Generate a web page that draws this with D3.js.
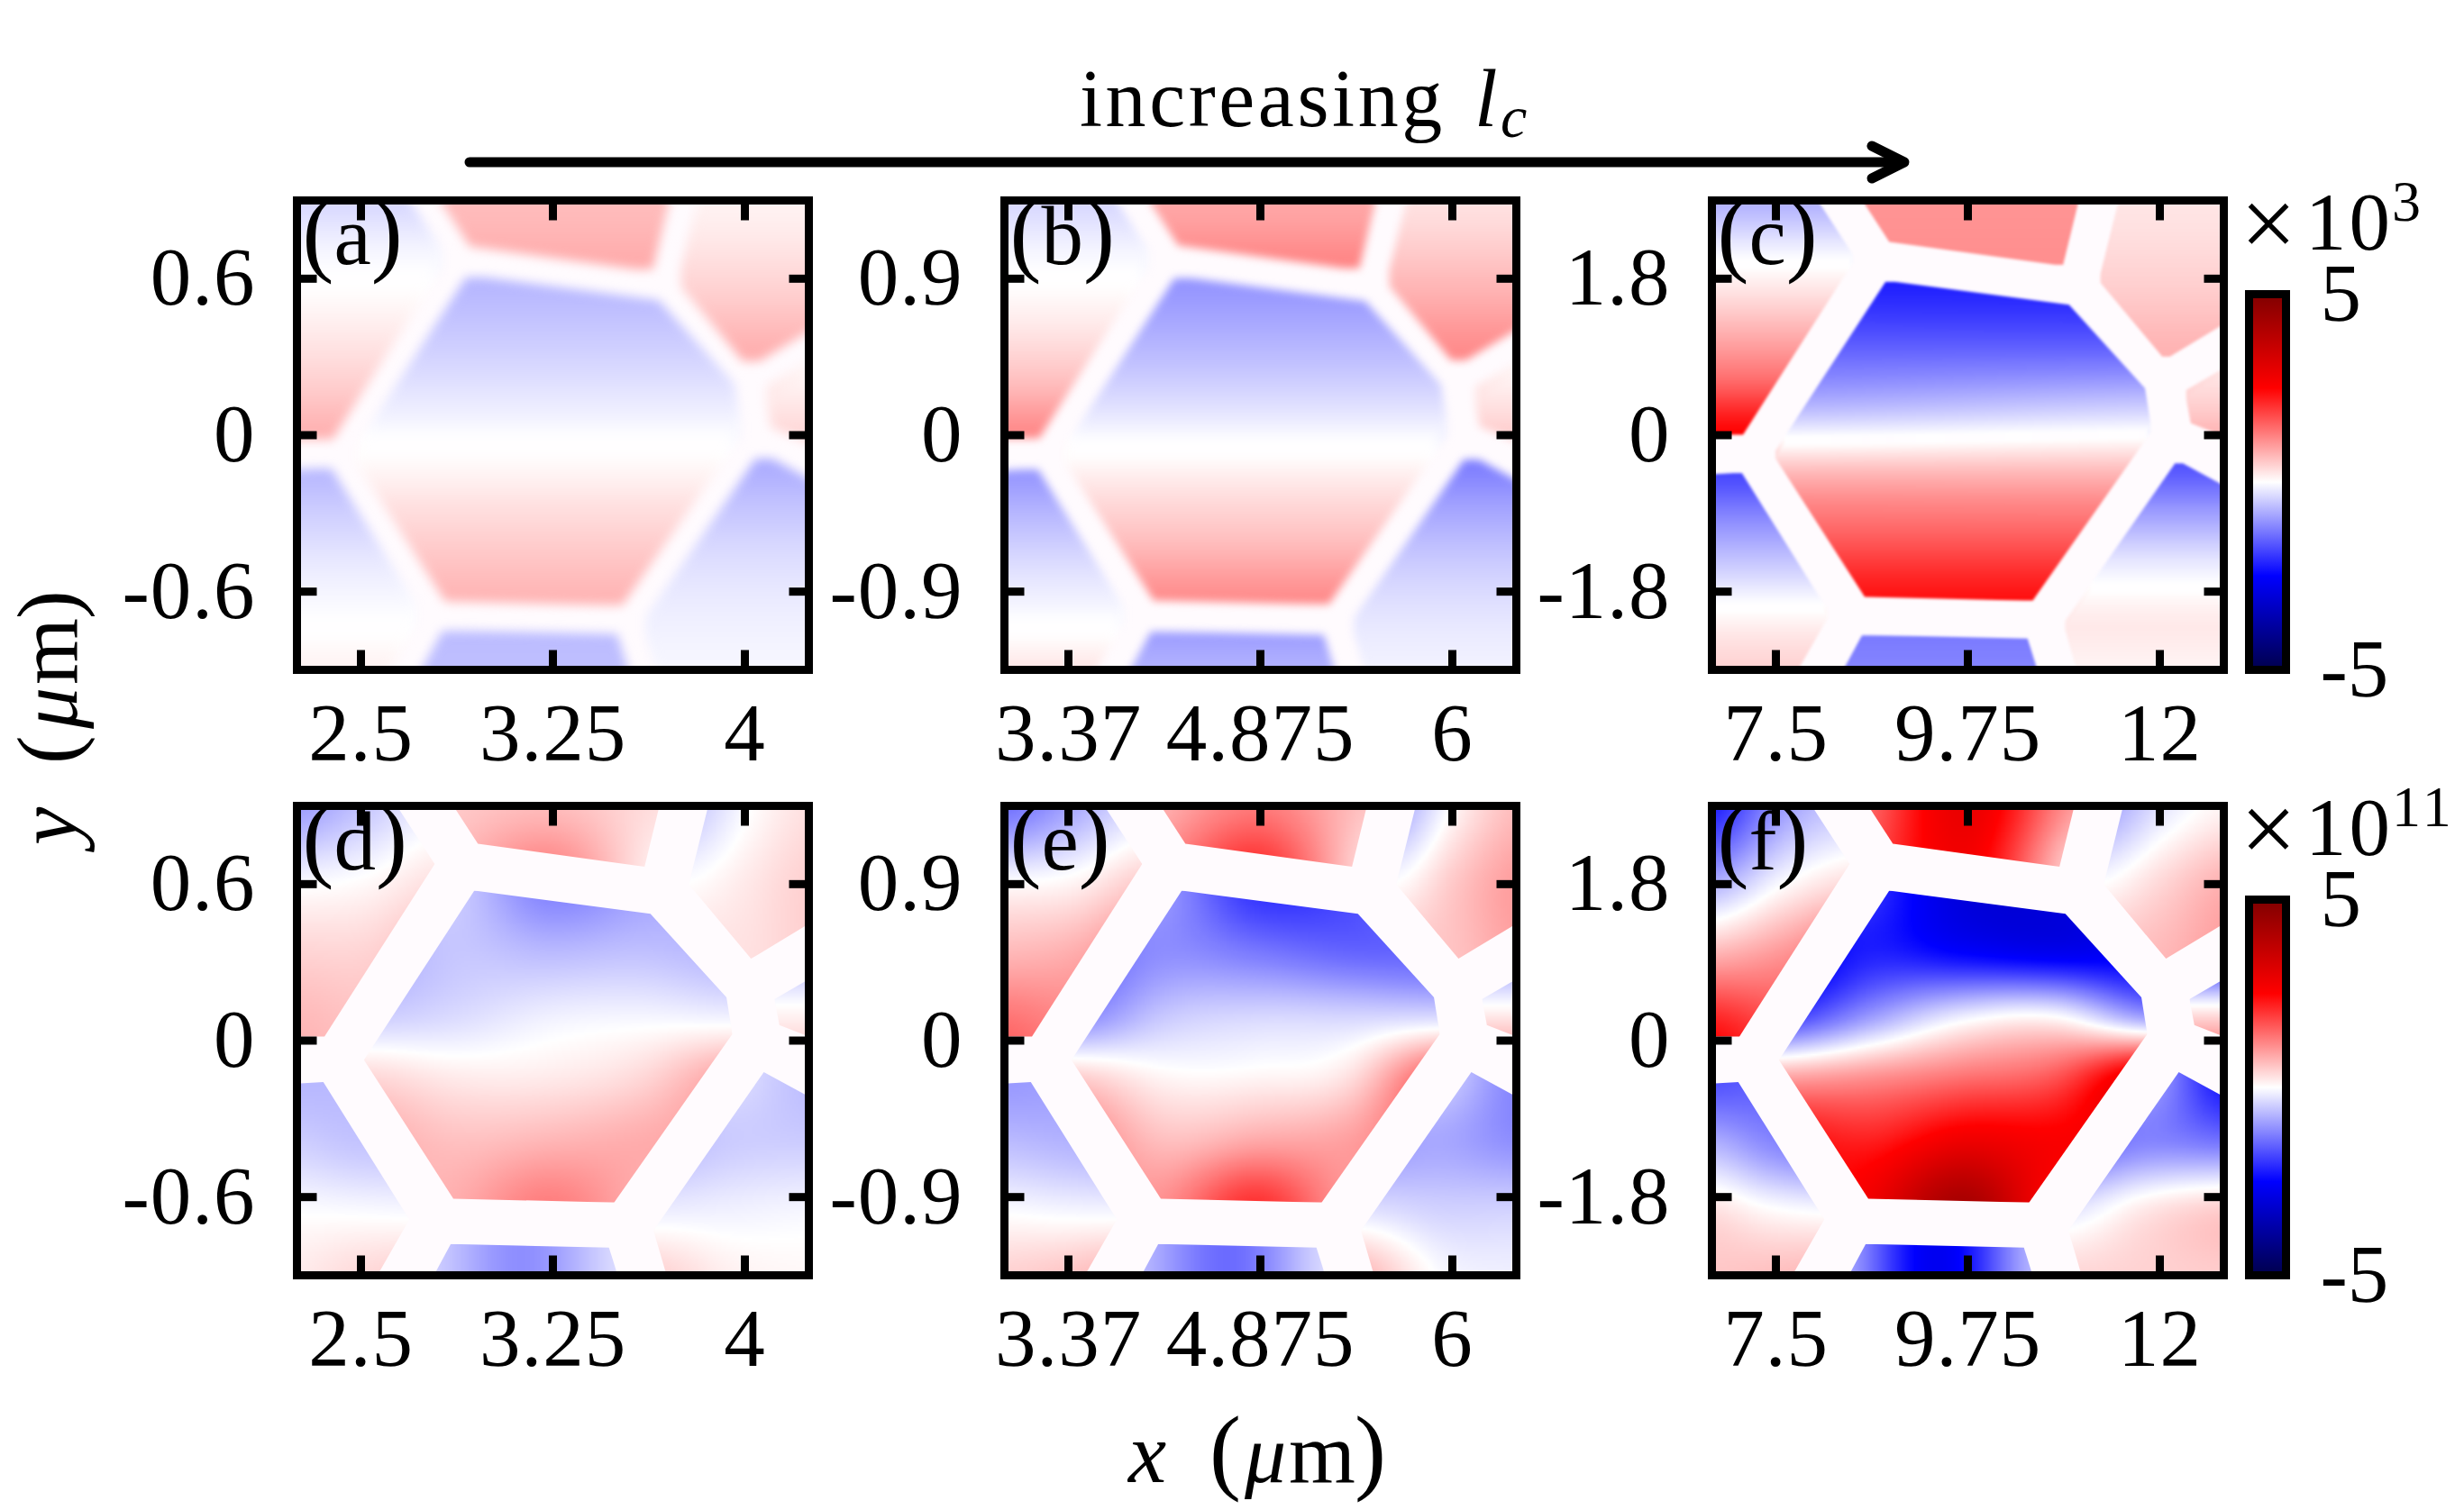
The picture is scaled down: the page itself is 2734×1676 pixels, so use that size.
<!DOCTYPE html>
<html>
<head>
<meta charset="utf-8">
<script src="https://cdnjs.cloudflare.com/ajax/libs/d3/7.8.5/d3.min.js"></script>
<style>
  html, body { margin: 0; padding: 0; background: #fff; }
  svg { display: block; }
  text { font-family: "Liberation Serif", serif; fill: #000; }
</style>
</head>
<body>
<div id="vis"></div>
<script>
// axes of each column (um)
var xDomains = [[2.25, 4.25], [3.375, 6.375], [6.75, 12.75]];
var yDomains = [[-0.9, 0.9], [-1.35, 1.35], [-2.7, 2.7]];
var xTickValues = [[2.5, 3.25, 4], [3.75, 4.875, 6], [7.5, 9.75, 12]];
var xTickLabels = [['2.5', '3.25', '4'], ['3.37', '4.875', '6'], ['7.5', '9.75', '12']];
var yTickValues = [[0.6, 0, -0.6], [0.9, 0, -0.9], [1.8, 0, -1.8]];
var yTickLabels = [['0.6', '0', '-0.6'], ['0.9', '0', '-0.9'], ['1.8', '0', '-1.8']];
// the lattice is the same in every column, only stretched
var latticeScale = [1, 1.5, 3];
var panelLetters = ['a', 'b', 'c', 'd', 'e', 'f'];
var barExponents = ['3', '11'];

// colour bar
var colorValues = [-5, -2.5, 0, 2.5, 5];
var colorNames = ['#00004c', '#0000ff', '#ffffff', '#ff0000', '#800000'];
var barTicks = [5, -5];

// cell outlines in the coordinates of the first column (um), running past the frame where cut off
var cellOutlines = [
  [[2.15, 1], [2.574, 1], [2.788, 0.677], [2.357, 0.015], [2.15, 0.015]],
  [[2.795, 1], [3.691, 1], [3.608, 0.667], [2.957, 0.755]],
  [[3.882, 1], [4.35, 1], [4.35, 0.507], [4.024, 0.314], [3.781, 0.599]],
  [[4.35, 0.293], [4.116, 0.159], [4.135, 0.06], [4.35, -0.024]],
  [[2.943, 0.575], [3.631, 0.486], [3.928, 0.166], [3.951, 0.025], [3.489, -0.621], [2.861, -0.606], [2.512, -0.074]],
  [[2.15, -0.17], [2.353, -0.159], [2.689, -0.686], [2.506, -1], [2.15, -1]],
  [[4.074, -0.121], [4.35, -0.268], [4.35, -1], [3.724, -1], [3.643, -0.728]],
  [[2.851, -0.78], [3.469, -0.794], [3.535, -1], [2.73, -1]]
];

// values read per cell, rows top to bottom, columns left to right over the cell's box
var fieldA = [
  [[-0.42], [-0.1], [0.16], [0.45], [0.78]],
  [[0.66], [0.82]],
  [[0.13], [0.42], [0.8]],
  [[0.05], [0.25], [0.45]],
  [[-0.72], [-0.5], [-0.2], [0.15], [0.48], [0.74]],
  [[-0.7], [-0.45], [-0.2], [-0.02], [0.15]],
  [[-0.82], [-0.56], [-0.32], [-0.17], [-0.09]],
  [[-0.66], [-0.63]]
];
var fieldB = [
  [[-0.42], [-0.1], [0.2], [0.62], [1.18]],
  [[0.87], [1.2]],
  [[0.3], [0.7], [1.16]],
  [[0.05], [0.3], [0.55]],
  [[-1.05], [-0.74], [-0.32], [0.2], [0.64], [1.15]],
  [[-1.03], [-0.67], [-0.32], [-0.04], [0.28]],
  [[-1.28], [-0.87], [-0.52], [-0.27], [-0.14]],
  [[-0.96], [-0.78]]
];
var fieldC = [
  [[-0.8], [-0.07], [0.6], [1.4], [2.5]],
  [[1.05], [1.1]],
  [[0.25], [0.45], [0.75]],
  [[0.2], [0.45], [0.8]],
  [[-2.2, -2.2], [-1.6, -1.6], [-0.72, -0.5], [0.75, 0.75], [1.6, 1.6], [2.35, 2.35]],
  [[-1.8], [-1.1], [-0.45], [0.15], [0.45]],
  [[-1.7], [-0.93], [-0.2], [0.2], [0.12]],
  [[-1.3], [-1.2]]
];
var fieldD = [
  [[-0.95, -0.55, -0.15], [-0.05, 0.05, 0.3], [0.45, 0.45, 0.7], [0.72, 0.6, 0.6]],
  [[0.5, 0.65, 0.3], [0.6, 1.15, 0.08]],
  [[-0.55, -0.02, 0.3], [0, 0.22, 0.45], [0.3, 0.3, 0.45]],
  [[-0.6], [0], [0.4]],
  [[-0.3, -0.5, -1.2, -0.9, -0.6], [-0.8, -0.55, -0.66, -0.6, -0.7], [-0.5, -0.35, -0.15, -0.1, -0.15],
   [0.4, 0.2, 0.2, 0.38, 0.9], [0.8, 0.6, 0.7, 0.8, 0.9], [0.6, 0.8, 1.25, 0.8, 0.5]],
  [[-0.7, -0.65, -0.4], [-0.45, -0.55, -0.55], [-0.02, -0.04, -0.06], [0.2, 0.35, 0.45]],
  [[-0.3, -0.3, -0.65], [-0.7, -0.5, -0.5], [-0.2, -0.15, -0.1], [0.45, 0.15, 0.07]],
  [[-0.4, -1.1, -0.3]]
];
var fieldE = [
  [[-1.4, -0.85, -0.3], [0, 0.1, 0.5], [0.75, 0.85, 1.2], [1.5, 1.2, 1]],
  [[0.7, 1.3, 0.55], [1, 2, 0.25]],
  [[-0.85, 0.1, 0.65], [0, 0.55, 0.95], [0.55, 0.6, 0.9]],
  [[-0.85], [0], [0.75]],
  [[-0.6, -1, -2, -1.8, -1], [-1.5, -1.1, -1.3, -1.5, -1.5], [-1.2, -0.55, -0.4, -0.42, -0.4],
   [0.5, 0.1, 0.1, 0.3, 1.6], [1.2, 0.62, 0.83, 0.93, 1.5], [1, 1.1, 2, 1, 0.8]],
  [[-1, -0.9, -0.6], [-0.62, -0.7, -0.75], [-0.03, -0.08, -0.1], [0.45, 0.55, 0.7]],
  [[-0.4, -0.4, -1.2], [-1, -0.85, -1.1], [-0.32, -0.45, -0.45], [0.7, -0.02, -0.15]],
  [[-0.6, -1.45, -0.3]]
];
var fieldF = [
  [[-2.2, -1, -0.5], [-0.8, -0.05, 0.35], [0.85, 1.1, 1.5], [2.4, 1.8, 1.5]],
  [[1.3, 2.9, 0.9], [1.6, 2.7, 0.3]],
  [[-0.9, -0.25, 0.1], [0, 0.4, 0.75], [0.6, 0.7, 0.95]],
  [[-1.9], [0], [1.1]],
  [[-1, -2, -3, -3, -2.5], [-2.8, -2.2, -2.5, -2.7, -2.6], [-2, -1, -0.2, -0.05, -1],
   [0.9, 1.1, 1.4, 1.7, 3], [2.4, 2.2, 2.8, 2.6, 2.8], [2, 2.8, 4.2, 2.5, 2.5]],
  [[-1.7, -1.5, -1], [-0.7, -1.1, -1.3], [0.3, 0.05, -0.05], [0.55, 0.62, 0.7]],
  [[-1, -0.8, -2.4], [-1.6, -1.2, -1.4], [-0.3, 0.2, 0.45], [0.4, 0.45, 0.5]],
  [[-0.7, -2.7, -0.6]]
];
var fields = [fieldA, fieldB, fieldC, fieldD, fieldE, fieldF];

// layout
var width = 2734;
var height = 1676;
var colLeft = [329.5, 1114.5, 1899.5];
var rowTop = [222.5, 894.5];
var panelW = 568;
var panelH = 521;
var barLeft = 2495.5;
var barW = 41;
var barH = 417;
var frameWidth = 9;
var tickLen = 22;
var fontSize = 91;
var wallColor = '#fffbfe';
// soft walls in the top row: cells are grown, then blurred
var growByPanel = [9, 8, 4, 0, 0, 0];
var blurByPanel = [6, 5, 1.5, 0, 0, 0];

var color = d3.scaleLinear().domain(colorValues).range(colorNames);

// lookup table so the pixel loop stays quick
var lut = d3.range(1025).map(function(i) {
  return d3.rgb(color(-5 + 10 * i / 1024));
});

var svg = d3.select('#vis').append('svg')
  .attr('width', width)
  .attr('height', height);
var defs = svg.append('defs');

svg.append('rect')
  .attr('width', width)
  .attr('height', height)
  .attr('fill', '#fff');

function cubic(a, b, c, d, t) {
  return b + 0.5 * t * (c - a + t * (2 * a - 5 * b + 4 * c - d + t * (3 * (b - c) + d - a)));
}

function clampIndex(i, n) {
  return Math.max(0, Math.min(n - 1, i));
}

// value at fractional row and column of a read matrix
function sample(matrix, v, u) {
  var rows = matrix.length;
  var cols = matrix[0].length;
  var c0 = Math.floor(u);
  var r0 = Math.floor(v);
  var across = [-1, 0, 1, 2].map(function(dr) {
    var line = matrix[clampIndex(r0 + dr, rows)];
    return cubic(line[clampIndex(c0 - 1, cols)], line[clampIndex(c0, cols)],
      line[clampIndex(c0 + 1, cols)], line[clampIndex(c0 + 2, cols)], u - c0);
  });
  return cubic(across[0], across[1], across[2], across[3], v - r0);
}

/**
 * Shades one cell into a small canvas and returns it as a data url.
 */
function shadeCell(matrix, box, w, h, toData) {
  var canvas = document.createElement('canvas');
  canvas.width = w;
  canvas.height = h;
  var ctx = canvas.getContext('2d');
  var img = ctx.createImageData(w, h);
  var rows = matrix.length;
  var cols = matrix[0].length;
  for (var j = 0; j < h; j++) {
    for (var i = 0; i < w; i++) {
      var p = toData((i + 0.5) / w, (j + 0.5) / h);
      var u = Math.max(0, Math.min(1, (p[0] - box.x0) / (box.x1 - box.x0))) * (cols - 1);
      var v = Math.max(0, Math.min(1, (box.y1 - p[1]) / (box.y1 - box.y0))) * (rows - 1);
      var val = sample(matrix, v, u);
      var col = lut[Math.max(0, Math.min(1024, Math.round((val + 5) / 10 * 1024)))];
      var k = (j * w + i) * 4;
      img.data[k] = col.r;
      img.data[k + 1] = col.g;
      img.data[k + 2] = col.b;
      img.data[k + 3] = 255;
    }
  }
  ctx.putImageData(img, 0, 0);
  return canvas.toDataURL();
}

function drawPanel(index) {
  var col = index % 3;
  var row = Math.floor(index / 3);
  var left = colLeft[col];
  var top = rowTop[row];
  var k = latticeScale[col];

  var x = d3.scaleLinear().domain(xDomains[col]).range([left, left + panelW]);
  var y = d3.scaleLinear().domain(yDomains[col]).range([top + panelH, top]);

  var g = svg.append('g').attr('class', 'panel panel-' + panelLetters[index]);

  g.append('rect')
    .attr('x', left)
    .attr('y', top)
    .attr('width', panelW)
    .attr('height', panelH)
    .attr('fill', wallColor);

  defs.append('clipPath')
    .attr('id', 'frame-' + index)
    .append('rect')
    .attr('x', left)
    .attr('y', top)
    .attr('width', panelW)
    .attr('height', panelH);

  var holder = g.append('g').attr('clip-path', 'url(#frame-' + index + ')');
  var cells = holder.append('g');

  if (blurByPanel[index] > 0) {
    var soft = defs.append('filter')
      .attr('id', 'soft-' + index)
      .attr('filterUnits', 'userSpaceOnUse')
      .attr('x', 0).attr('y', 0)
      .attr('width', width).attr('height', height)
      .attr('color-interpolation-filters', 'sRGB');
    soft.append('feMorphology')
      .attr('operator', 'dilate')
      .attr('radius', growByPanel[index]);
    soft.append('feGaussianBlur')
      .attr('stdDeviation', blurByPanel[index]);
    cells.attr('filter', 'url(#soft-' + index + ')');
  }

  var outline = d3.line()
    .x(function(d) { return x(d[0] * k); })
    .y(function(d) { return y(d[1] * k); });

  cellOutlines.forEach(function(cell, c) {
    var xs = cell.map(function(d) { return d[0]; });
    var ys = cell.map(function(d) { return d[1]; });
    // values span only the visible part of the cell
    var box = {
      x0: Math.max(d3.min(xs), xDomains[0][0]),
      x1: Math.min(d3.max(xs), xDomains[0][1]),
      y0: Math.max(d3.min(ys), yDomains[0][0]),
      y1: Math.min(d3.max(ys), yDomains[0][1])
    };
    var px0 = x(d3.min(xs) * k);
    var px1 = x(d3.max(xs) * k);
    var py0 = y(d3.max(ys) * k);
    var py1 = y(d3.min(ys) * k);
    var w = Math.ceil((px1 - px0) / 2);
    var h = Math.ceil((py1 - py0) / 2);

    var href = shadeCell(fields[index][c], box, w, h, function(fx, fy) {
      return [x.invert(px0 + fx * (px1 - px0)) / k, y.invert(py0 + fy * (py1 - py0)) / k];
    });

    var clipId = 'cell-' + index + '-' + c;
    defs.append('clipPath')
      .attr('id', clipId)
      .append('path')
      .attr('d', outline(cell) + 'Z');

    cells.append('image')
      .attr('href', href)
      .attr('x', px0)
      .attr('y', py0)
      .attr('width', px1 - px0)
      .attr('height', py1 - py0)
      .attr('preserveAspectRatio', 'none')
      .attr('clip-path', 'url(#' + clipId + ')');
  });

  function styleAxis(sel) {
    sel.select('.domain').remove();
    sel.selectAll('line').attr('stroke', '#000').attr('stroke-width', 9);
    sel.attr('font-family', '"Liberation Serif", serif')
      .attr('font-size', fontSize)
      .attr('letter-spacing', 1);
  }

  function labelFrom(values, labels) {
    return function(d) { return labels[values.indexOf(d)]; };
  }

  // inward ticks on all four sides, labels only bottom and left
  var bottomAxis = d3.axisBottom(x).tickValues(xTickValues[col])
    .tickFormat(labelFrom(xTickValues[col], xTickLabels[col]))
    .tickSize(-tickLen).tickPadding(36).offset(0);
  var leftAxis = d3.axisLeft(y).tickValues(yTickValues[col])
    .tickFormat(labelFrom(yTickValues[col], yTickLabels[col]))
    .tickSize(-tickLen).tickPadding(46).offset(0);
  var topAxis = d3.axisTop(x).tickValues(xTickValues[col])
    .tickFormat('').tickSize(-tickLen).offset(0);
  var rightAxis = d3.axisRight(y).tickValues(yTickValues[col])
    .tickFormat('').tickSize(-tickLen).offset(0);

  g.append('g').attr('transform', 'translate(0,' + (top + panelH) + ')').call(bottomAxis).call(styleAxis);
  g.append('g').attr('transform', 'translate(' + left + ',0)').call(leftAxis).call(styleAxis);
  g.append('g').attr('transform', 'translate(0,' + top + ')').call(topAxis).call(styleAxis);
  g.append('g').attr('transform', 'translate(' + (left + panelW) + ',0)').call(rightAxis).call(styleAxis);

  g.append('rect')
    .attr('x', left)
    .attr('y', top)
    .attr('width', panelW)
    .attr('height', panelH)
    .attr('fill', 'none')
    .attr('stroke', '#000')
    .attr('stroke-width', frameWidth);

  // panel letter
  var tag = g.append('text')
    .attr('x', left + 6)
    .attr('y', top + 70)
    .attr('font-size', fontSize + 2);
  tag.append('tspan').attr('font-size', 105).text('(');
  tag.append('tspan').text(panelLetters[index]);
  tag.append('tspan').attr('font-size', 105).text(')');
}

function drawBar(row) {
  var top = rowTop[row] + panelH - barH;
  var gradId = 'bar-grad-' + row;
  var barScale = d3.scaleLinear().domain([-5, 5]).range([top + barH, top]);

  var grad = defs.append('linearGradient')
    .attr('id', gradId)
    .attr('x1', 0).attr('y1', 1)
    .attr('x2', 0).attr('y2', 0);
  grad.selectAll('stop')
    .data(colorValues)
    .enter().append('stop')
    .attr('offset', function(d) { return (d + 5) / 10; })
    .attr('stop-color', function(d) { return color(d); });

  svg.append('rect')
    .attr('x', barLeft)
    .attr('y', top)
    .attr('width', barW)
    .attr('height', barH)
    .attr('fill', 'url(#' + gradId + ')')
    .attr('stroke', '#000')
    .attr('stroke-width', frameWidth);

  var axis = d3.axisRight(barScale).tickValues(barTicks)
    .tickFormat(function(d) { return d; })
    .tickSize(0).tickPadding(38).offset(0);
  var ag = svg.append('g')
    .attr('transform', 'translate(' + (barLeft + barW) + ',0)')
    .call(axis);
  ag.select('.domain').remove();
  ag.selectAll('text').text(function(d) { return d < 0 ? '-' + Math.abs(d) : d; });
  ag.attr('font-family', '"Liberation Serif", serif').attr('font-size', fontSize);

  // multiplier above the bar, one text with a raised exponent
  var base = rowTop[row] + 54.5;
  var mult = svg.append('text').attr('y', base).attr('font-size', fontSize);
  mult.append('tspan').attr('x', 2486).attr('dy', 8).attr('font-size', 110).text('\u00d7');
  mult.append('tspan').attr('x', 2558).attr('dy', -8).attr('letter-spacing', 3).text('10');
  mult.append('tspan').attr('x', 2654).attr('dy', -32).attr('font-size', 64).attr('letter-spacing', 4).text(barExponents[row]);
}

d3.range(6).forEach(drawPanel);
d3.range(2).forEach(drawBar);

// axis titles, drawn piece by piece since the letters change style
function axisTitle(letter, transform, parenSize) {
  var t = svg.append('text').attr('transform', transform);
  t.append('tspan').attr('x', 0).attr('font-style', 'italic').attr('font-size', 95).text(letter);
  t.append('tspan').attr('x', 90).attr('font-size', parenSize).text('(');
  t.append('tspan').attr('x', 129).attr('font-style', 'italic').attr('font-size', 92).text('\u03bc');
  t.append('tspan').attr('x', 178).attr('font-size', 95).text('m');
  t.append('tspan').attr('x', 251).attr('font-size', parenSize).text(')');
}
axisTitle('x', 'translate(1252,1645)', 105);
axisTitle('y', 'translate(85,938) rotate(-90)', 95);

// increasing l_c with its arrow
var title = svg.append('text').attr('y', 140).attr('font-size', 90);
title.append('tspan').attr('x', 1198).attr('letter-spacing', 3.6).text('increasing');
title.append('tspan').attr('x', 1636).attr('font-size', 92).attr('font-style', 'italic').text('l');
title.append('tspan').attr('x', 1665).attr('dy', 12).attr('font-size', 66).attr('font-style', 'italic').text('c');

svg.append('path')
  .attr('d', 'M521,180H2112')
  .attr('stroke', '#000')
  .attr('stroke-width', 11)
  .attr('stroke-linecap', 'round')
  .attr('fill', 'none');
svg.append('path')
  .attr('d', 'M2077,162L2113,180L2077,198')
  .attr('stroke', '#000')
  .attr('stroke-width', 11)
  .attr('stroke-linecap', 'round')
  .attr('stroke-linejoin', 'round')
  .attr('fill', 'none');
</script>
</body>
</html>
